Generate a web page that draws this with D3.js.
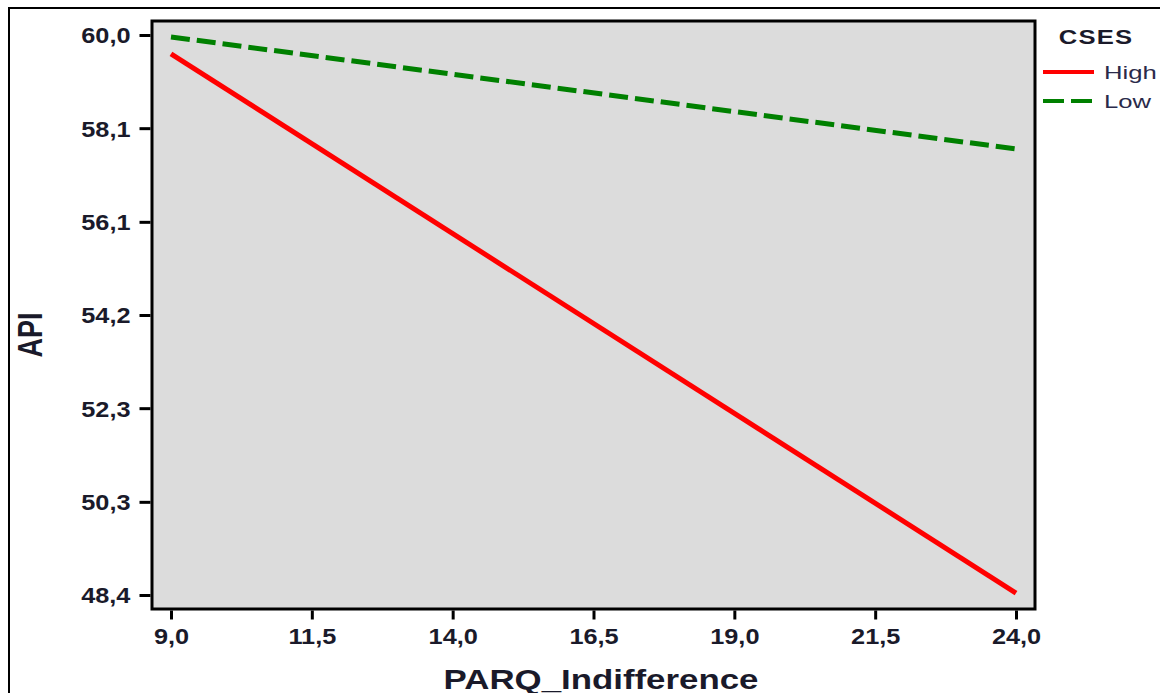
<!DOCTYPE html>
<html>
<head>
<meta charset="utf-8">
<script src="https://cdn.jsdelivr.net/npm/d3@7"></script>
<style>
  body { margin: 0; background: #fff; }
  text { font-family: "Liberation Sans", Arial, sans-serif; fill: #1a1a2a; }
  .wide { transform-box: fill-box; transform-origin: center; }
</style>
</head>
<body>
<svg id="chart" width="1160" height="693"></svg>
<script>
// data
var xVals = [9.0, 24.0];
var highVals = [59.61, 48.44];
var lowVals = [59.96, 57.64];
var seriesNames = ["High", "Low"];
var xTicks = [9.0, 11.5, 14.0, 16.5, 19.0, 21.5, 24.0];
var yTicks = [48.4, 50.33, 52.27, 54.2, 56.13, 58.07, 60.0];

var svg = d3.select("#chart");

// plot box
var boxL = 152, boxT = 21, boxR = 1035, boxB = 609;

var x = d3.scaleLinear().domain([8.663, 24.337]).range([boxL, boxR]);
var y = d3.scaleLinear().domain([48.11, 60.29]).range([boxB, boxT]);

var fmt = function (d) { return d3.format(".1f")(d).replace(".", ","); };

// the picture looks stretched sideways, so text is too
function stretch(sel, k) {
  sel.classed("wide", true).style("transform", "scaleX(" + k + ")");
}

// outer frame (only left and top visible)
svg.append("path")
  .attr("d", "M9,693V8H1160")
  .attr("fill", "none")
  .attr("stroke", "#000")
  .attr("stroke-width", 2);

svg.append("rect")
  .attr("x", boxL).attr("y", boxT)
  .attr("width", boxR - boxL).attr("height", boxB - boxT)
  .attr("fill", "#dcdcdc")
  .attr("stroke", "#000")
  .attr("stroke-width", 3);

//
// axes
//
var xAxis = svg.append("g")
  .attr("transform", "translate(0," + (boxB + 1.5) + ")")
  .call(d3.axisBottom(x).tickValues(xTicks).tickFormat(fmt).tickSize(9).tickPadding(9));

var yAxis = svg.append("g")
  .attr("transform", "translate(" + (boxL - 1.5) + ",0)")
  .call(d3.axisLeft(y).tickValues(yTicks).tickFormat(fmt).tickSize(11).tickPadding(9));

[xAxis, yAxis].forEach(function (g) {
  g.select(".domain").remove();
  g.selectAll(".tick line").attr("stroke", "#000").attr("stroke-width", 3);
  g.selectAll(".tick text")
    .style("font-size", "22px")
    .style("font-weight", "bold")
    .style("fill", "#1a1a2a");
});
xAxis.selectAll(".tick text").call(stretch, 1.15);
yAxis.selectAll(".tick text").attr("dy", "0.36em")
  .style("transform-origin", "right center")
  .call(stretch, 1.15);

// axis titles
svg.append("text")
  .attr("x", 601).attr("y", 689)
  .attr("text-anchor", "middle")
  .style("font-size", "27px").style("font-weight", "bold")
  .call(stretch, 1.29)
  .text("PARQ_Indifference");

svg.append("text")
  .attr("transform", "translate(42,335) rotate(-90) scale(1,1.3)")
  .attr("text-anchor", "middle")
  .style("font-size", "27px").style("font-weight", "bold")
  .text("API");

//
// lines
//
var line = d3.line()
  .x(function (d) { return x(d[0]); })
  .y(function (d) { return y(d[1]); });

var series = [
  { name: seriesNames[0], values: d3.zip(xVals, highVals), color: "#ff0000", dash: null },
  { name: seriesNames[1], values: d3.zip(xVals, lowVals), color: "#008000", dash: "19,7" }
];

svg.selectAll(".series")
  .data(series)
  .enter().append("path")
  .attr("class", "series")
  .attr("d", function (d) { return line(d.values); })
  .attr("fill", "none")
  .attr("stroke", function (d) { return d.color; })
  .attr("stroke-width", 5)
  .attr("stroke-dasharray", function (d) { return d.dash; });

//
// legend
//
svg.append("text")
  .attr("x", 1096).attr("y", 44)
  .attr("text-anchor", "middle")
  .style("font-size", "21px").style("font-weight", "bold")
  .style("letter-spacing", "1px")
  .call(stretch, 1.22)
  .text("CSES");

var leg = svg.selectAll(".leg")
  .data(series)
  .enter().append("g")
  .attr("class", "leg")
  .attr("transform", function (d, i) { return "translate(0," + (72 + i * 29) + ")"; });

leg.append("line")
  .attr("x1", 1043).attr("x2", 1094)
  .attr("stroke", function (d) { return d.color; })
  .attr("stroke-width", 4)
  .attr("stroke-dasharray", function (d) { return d.dash ? "21,7" : null; });

leg.append("text")
  .attr("x", 1104).attr("y", 7)
  .style("font-size", "19px")
  .style("fill", "#2a2a4a")
  .style("transform-origin", "left center")
  .call(stretch, 1.35)
  .text(function (d) { return d.name; });
</script>
</body>
</html>
